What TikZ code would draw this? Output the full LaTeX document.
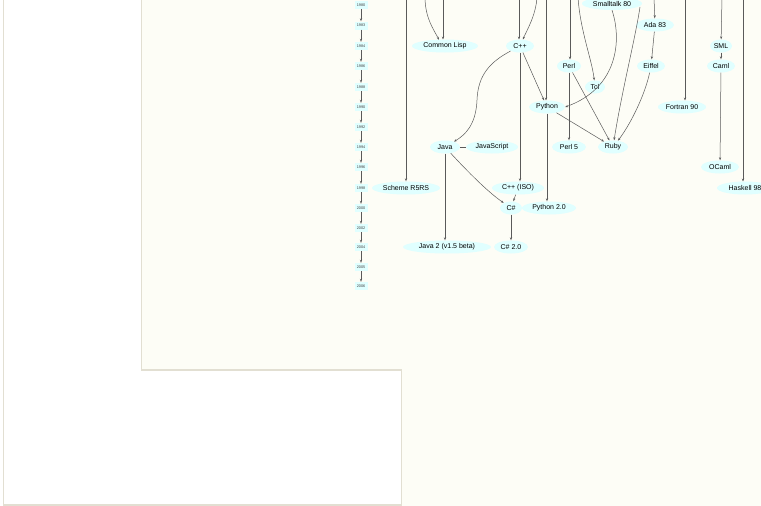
\documentclass[tikz,border=0pt]{standalone}
\usepackage{fontspec}
\setmainfont{Liberation Sans}
\usetikzlibrary{shapes.geometric,arrows.meta}
\definecolor{cream}{HTML}{FDFDF6}
\definecolor{framecol}{HTML}{E2DFD2}
\definecolor{nodefill}{HTML}{E0FFFF}
\definecolor{edgecol}{HTML}{5A5A5A}
\begin{document}
\begin{tikzpicture}[x=1pt,y=-1pt,
  lang/.style={ellipse, fill=nodefill, inner sep=0pt, minimum height=13pt, font=\fontsize{7}{8}\selectfont, text=black},
  yr/.style={rectangle, fill=nodefill, inner sep=0pt, minimum width=13pt, minimum height=8pt, font=\fontsize{3.8}{4}\selectfont, text=black!75},
  edge/.style={draw=edgecol, line width=0.5pt, -{Stealth[length=3pt,width=2.2pt]}},
  plain/.style={draw=edgecol, line width=0.5pt},
  framestyle/.style={draw=framecol, line width=1.3pt}
]
\useasboundingbox (0,0) rectangle (761,506);
\clip (0,0) rectangle (761,506);
% background
\fill[white] (0,0) rectangle (761,506);
\fill[cream] (141,-5) -- (766,-5) -- (766,511) -- (401,511) -- (401,370) -- (141,370) -- cycle;
\draw[framestyle] (3.5,-5) -- (3.5,505) -- (401.5,505);
\draw[framestyle] (141.5,-5) -- (141.5,370) -- (401.5,370) -- (401.5,511);

% year column
\node[yr] (y1) at (361,5) {1980};
\node[yr] (y2) at (361,25.5) {1983};
\node[yr] (y3) at (361,46) {1984};
\node[yr] (y4) at (361,66) {1986};
\node[yr] (y5) at (361,87) {1988};
\node[yr] (y6) at (361,107) {1990};
\node[yr] (y7) at (361,127) {1992};
\node[yr] (y8) at (361,147) {1994};
\node[yr] (y9) at (361,167) {1996};
\node[yr] (y10) at (361,188) {1998};
\node[yr] (y11) at (361,208) {2000};
\node[yr] (y12) at (361,228) {2002};
\node[yr] (y13) at (361,247) {2004};
\node[yr] (y14) at (361,267) {2005};
\node[yr] (y15) at (361,286) {2006};
\foreach \a/\b in {y1/y2,y2/y3,y3/y4,y4/y5,y5/y6,y6/y7,y7/y8,y8/y9,y9/y10,y10/y11,y11/y12,y12/y13,y13/y14,y14/y15}
  \draw[edge] (\a) -- (\b);

% language nodes
\node[lang, minimum width=60pt] (st) at (612,3.5) {Smalltalk 80};
\node[lang, minimum width=66pt] (clisp) at (445,46) {Common Lisp};
\node[lang, minimum width=28pt] (cpp) at (520,46) {C++};
\node[lang, minimum width=24pt] (perl) at (569,66) {Perl};
\node[lang, minimum width=20pt] (tcl) at (595,87) {Tcl};
\node[lang, minimum width=36pt] (python) at (547,107) {Python};
\node[lang, minimum width=38pt] (ada) at (655,25) {Ada 83};
\node[lang, minimum width=28pt] (eiffel) at (651,66) {Eiffel};
\node[lang, minimum width=48pt] (f90) at (682,107) {Fortran 90};
\node[lang, minimum width=22pt] (sml) at (721,46) {SML};
\node[lang, minimum width=28pt] (caml) at (721,66) {Caml};
\node[lang, minimum width=38pt] (ocaml) at (720,167) {OCaml};
\node[lang, minimum width=56pt] (h98) at (745,188) {Haskell 98};
\node[lang, minimum width=30pt] (java) at (445,147) {Java};
\node[lang, minimum width=52pt] (js) at (492,147) {JavaScript};
\node[lang, minimum width=34pt] (perl5) at (569,147) {Perl 5};
\node[lang, minimum width=30pt] (ruby) at (613,147) {Ruby};
\node[lang, minimum width=68pt] (r5rs) at (406,188) {Scheme R5RS};
\node[lang, minimum width=52pt] (cppiso) at (518,188) {C++ (ISO)};
\node[lang, minimum width=22pt] (cs) at (511,208) {C\#};
\node[lang, minimum width=54pt] (py2) at (549,208) {Python 2.0};
\node[lang, minimum width=88pt] (java2) at (447,247) {Java 2 (v1.5 beta)};
\node[lang, minimum width=34pt] (cs2) at (511,247) {C\# 2.0};

% edge ends entering from above
\coordinate (tA) at (425,-3);
\coordinate (tB) at (443,-3);
\coordinate (tC) at (406,-3);
\coordinate (tD) at (519,-3);
\coordinate (tE) at (537,-3);
\coordinate (tF) at (546,-3);
\coordinate (tG) at (570,-3);
\coordinate (tH) at (578,-3);
\coordinate (tI) at (654,-3);
\coordinate (tJ) at (685,-3);
\coordinate (tK) at (722,-3);
\coordinate (tL) at (743,-3);
\coordinate (clispin) at (439,39.8);
\coordinate (stright) at (640,7);

% edges
\draw[edge] (tA) .. controls (425,18) and (434,30) .. (clispin);
\draw[edge] (tB) -- (443,39.5);
\draw[edge] (tC) -- (r5rs);
\draw[edge] (tD) -- (519,39.5);
\draw[edge] (tE) .. controls (536,15) and (527,30) .. (cpp);
\draw[edge] (tF) -- (546,100.5);
\draw[edge] (tG) -- (570,59.5);
\draw[edge] (tH) .. controls (580,30) and (592,60) .. (tcl);
\draw[edge] (tI) -- (ada);
\draw[edge] (tJ) -- (685,100.5);
\draw[edge] (tK) -- (sml);
\draw[edge] (tL) -- (743,181.5);

\draw[edge] (st.south) .. controls (622,40) and (618,88) .. (python.east);
\draw[edge] (stright) .. controls (635,40) and (622,90) .. (ruby);
\draw[edge] (ada) -- (eiffel);
\draw[edge] (eiffel) .. controls (645,95) and (630,125) .. (ruby);
\draw[edge] (sml) -- (caml);
\draw[edge] (caml) -- (ocaml);

\draw[edge] (cpp) .. controls (490,62) and (478,75) .. (477,100) .. controls (476,125) and (465,135) .. (java);
\draw[edge] (cpp.south) -- (cppiso.north -| cpp.south);
\draw[edge] (cpp) -- (python);
\draw[edge] (perl) -- (perl5);
\draw[edge] (perl) -- (ruby);
\draw[edge] (python) -- (ruby);
\draw[edge] (python.south) -- (py2.north -| python.south);
\draw[plain] (java) -- (js);
\draw[edge] (java.south) -- (java2.north -| java.south);
\draw[edge] (java) .. controls (468,172) and (488,192) .. (cs);
\draw[edge] (cppiso) -- (cs);
\draw[edge] (cs) -- (cs2);
\end{tikzpicture}
\end{document}
